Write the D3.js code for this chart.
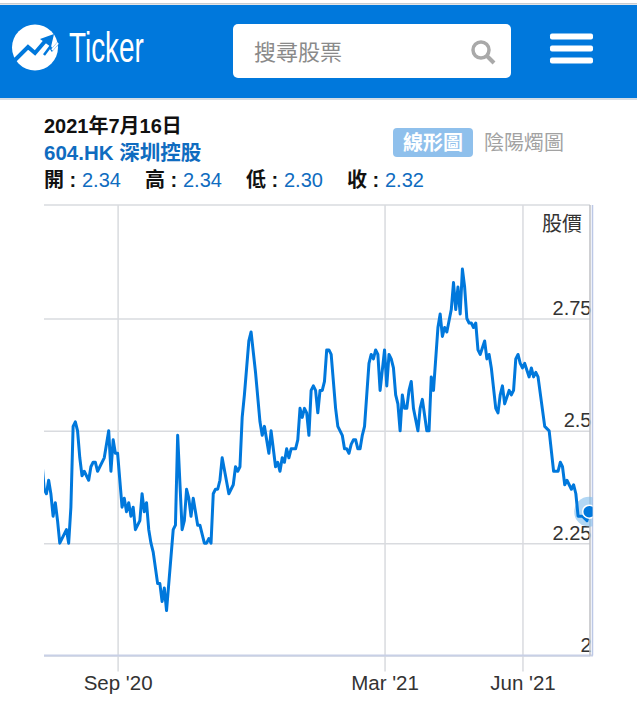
<!DOCTYPE html>
<html>

<head>
    <meta charset="utf-8">
    <title>604.HK</title>
    <script src="https://d3js.org/d3.v7.min.js"></script>
    <style>
        html, body { margin: 0; padding: 0; background: #fff; }
        svg { display: block; }
        text { font-family: "Liberation Sans", "Noto Sans CJK TC", sans-serif; }
    </style>
</head>

<body>
    <script>
        const msm = { width: 637, height: 704 }
        const plot = { left: 44, right: 590, top: 205, bottom: 655.5 }

        // trading day number and closing price of each turning point
        const tradingDays = [-1, 0, 1, 2, 3, 4, 5, 6, 7, 10, 11, 12, 13, 14, 15, 16, 17, 18, 20, 21, 22, 23, 24, 27, 29, 30, 31, 32, 33, 35,
            36, 37, 38, 39, 40, 41, 43, 44, 45, 46, 47, 48, 49, 51, 52, 53, 54, 55, 58, 59, 60, 62, 63, 64, 65, 66, 67, 69, 70, 72,
            73, 74, 75, 76, 77, 78, 79, 80, 83, 85, 86, 87, 88, 89, 90, 92, 93, 95, 97, 98, 99, 101, 102, 104, 105, 106, 107, 108, 109, 110,
            111, 113, 114, 115, 116, 117, 118, 119, 120, 121, 122, 123, 124, 125, 126, 127, 128, 129, 131, 132, 134, 135, 136, 137, 138, 139, 140, 141, 142, 143,
            144, 146, 147, 148, 149, 150, 151, 153, 154, 155, 156, 157, 158, 159, 160, 161, 162, 163, 164, 165, 166, 168, 169, 170, 172, 173, 174, 175, 177, 178,
            179, 180, 181, 183, 184, 185, 186, 187, 188, 189, 190, 191, 192, 193, 194, 195, 196, 198, 199, 200, 201, 203, 204, 205, 206, 207, 209, 210, 211, 212,
            213, 214, 215, 216, 218, 219, 220, 221, 222, 225, 227, 229, 231, 232, 233, 234, 235, 237, 238, 239, 240, 242, 244, 245]
        const closes = [2.43, 2.37, 2.36, 2.39, 2.36, 2.31, 2.34, 2.30, 2.25, 2.28, 2.25, 2.33, 2.51, 2.52, 2.50, 2.44, 2.40, 2.41, 2.39, 2.42, 2.43, 2.43, 2.41, 2.44, 2.50, 2.41, 2.48, 2.45, 2.45, 2.33,
            2.35, 2.32, 2.34, 2.31, 2.33, 2.28, 2.30, 2.36, 2.32, 2.34, 2.28, 2.25, 2.23, 2.16, 2.16, 2.12, 2.15, 2.10, 2.28, 2.29, 2.49, 2.28, 2.30, 2.37, 2.35, 2.31, 2.35, 2.29, 2.29, 2.25,
            2.25, 2.26, 2.25, 2.36, 2.37, 2.37, 2.39, 2.44, 2.36, 2.38, 2.42, 2.41, 2.42, 2.53, 2.58, 2.70, 2.72, 2.63, 2.52, 2.49, 2.51, 2.45, 2.50, 2.42, 2.43, 2.41, 2.44, 2.43, 2.46, 2.44,
            2.46, 2.46, 2.48, 2.55, 2.53, 2.55, 2.54, 2.49, 2.59, 2.60, 2.59, 2.54, 2.59, 2.59, 2.61, 2.68, 2.68, 2.67, 2.55, 2.51, 2.49, 2.46, 2.46, 2.45, 2.47, 2.48, 2.48, 2.46, 2.46, 2.49,
            2.51, 2.65, 2.67, 2.66, 2.68, 2.67, 2.59, 2.68, 2.60, 2.67, 2.66, 2.64, 2.58, 2.56, 2.50, 2.58, 2.55, 2.55, 2.59, 2.61, 2.55, 2.50, 2.55, 2.57, 2.50, 2.50, 2.62, 2.59, 2.73, 2.76,
            2.71, 2.73, 2.72, 2.77, 2.83, 2.77, 2.82, 2.76, 2.86, 2.82, 2.75, 2.74, 2.74, 2.73, 2.74, 2.68, 2.67, 2.70, 2.66, 2.67, 2.64, 2.55, 2.54, 2.58, 2.60, 2.56, 2.59, 2.58, 2.59, 2.66,
            2.67, 2.65, 2.64, 2.65, 2.62, 2.64, 2.62, 2.63, 2.62, 2.51, 2.50, 2.41, 2.41, 2.43, 2.42, 2.38, 2.39, 2.37, 2.38, 2.36, 2.31, 2.31, 2.30, 2.32]

        const priceTicks = [2, 2.25, 2.5, 2.75]
        const monthDays = [33, 153, 215]
        const monthLabels = ["Sep '20", "Mar '21", "Jun '21"]

        const quoteLabels = ["開 :", "高 :", "低 :", "收 :"]
        const quoteValues = ["2.34", "2.34", "2.30", "2.32"]

        const blue = '#0078dc'
        const gridColor = '#d9dbdf'

        let svg = d3.select('body')
            .append('svg')
            .attr('width', msm.width)
            .attr('height', msm.height)

        let x = d3.scaleLinear().domain([0, 245]).range([44.2, 589.2])
        let y = d3.scaleLinear().domain([2, 2.75]).range([655.5, 318.5])

        // header bar
        svg.append('rect').attr('x', 0).attr('y', 3).attr('width', msm.width).attr('height', 1.5).attr('fill', '#c9ccd0')
        svg.append('rect').attr('x', 0).attr('y', 5).attr('width', msm.width).attr('height', 93).attr('fill', blue)
        svg.append('rect').attr('x', 0).attr('y', 98).attr('width', msm.width).attr('height', 2).attr('fill', '#d5dde5')

        // logo
        svg.append('circle').attr('cx', 35).attr('cy', 47.5).attr('r', 23).attr('fill', '#fff')
        svg.append('path')
            .attr('d', 'M15 60 L28 47 L35 53 L47 39')
            .attr('fill', 'none').attr('stroke', blue).attr('stroke-width', 4)
        svg.append('path').attr('d', 'M40 39 L54 34 L51 47 Z').attr('fill', blue)
        svg.append('path')
            .attr('d', 'M44 55 L50 47 L52 50 L58 43')
            .attr('fill', 'none').attr('stroke', blue).attr('stroke-width', 2.5)
        svg.append('path')
            .attr('d', 'M52 50 L58 43')
            .attr('fill', 'none').attr('stroke', '#fff').attr('stroke-width', 2)
        svg.append('text').attr('x', 0).attr('y', 0)
            .attr('transform', 'translate(69,62) scale(0.68,1.03)')
            .attr('font-size', 41).attr('fill', '#fff')
            .style('font-family', '"Liberation Sans Narrow", "Liberation Sans"')
            .text('Ticker')

        // search box
        svg.append('rect').attr('x', 233).attr('y', 24).attr('width', 278).attr('height', 54).attr('rx', 5).attr('fill', '#fff')
        svg.append('text').attr('x', 254).attr('y', 60).attr('font-size', 22).attr('fill', '#8a8a8a').text('搜尋股票')
        svg.append('circle').attr('cx', 481).attr('cy', 50).attr('r', 8).attr('fill', 'none').attr('stroke', '#a9a9a9').attr('stroke-width', 3.5)
        svg.append('line').attr('x1', 487).attr('y1', 56).attr('x2', 494).attr('y2', 63).attr('stroke', '#a9a9a9').attr('stroke-width', 4)

        // menu icon
        d3.range(3).forEach(function (i) {
            svg.append('rect').attr('x', 550).attr('y', 33.5 + i * 12).attr('width', 43).attr('height', 6).attr('rx', 2).attr('fill', '#fff')
        })

        // quote heading
        svg.append('text').attr('x', 44).attr('y', 133).attr('font-size', 20).attr('font-weight', 'bold').attr('fill', '#111').text('2021年7月16日')
        svg.append('text').attr('x', 44).attr('y', 160).attr('font-size', 20.5).attr('font-weight', 'bold').attr('fill', '#0f6cc0').text('604.HK 深圳控股')

        let quoteX = d3.scalePoint().domain(quoteLabels).range([44, 347])
        quoteLabels.forEach(function (d, i) {
            svg.append('text').attr('x', quoteX(d)).attr('y', 187).attr('font-size', 20).attr('fill', '#111').attr('font-weight', 'bold').text(d)
            svg.append('text').attr('x', quoteX(d) + 38).attr('y', 187).attr('font-size', 20).attr('fill', '#0f6cc0').text(quoteValues[i])
        })

        // chart type buttons
        svg.append('rect').attr('x', 393).attr('y', 128).attr('width', 80).attr('height', 29).attr('rx', 4).attr('fill', '#8fc0ec')
        svg.append('text').attr('x', 403).attr('y', 150).attr('font-size', 20).attr('fill', '#fff').attr('font-weight', 'bold').text('線形圖')
        svg.append('text').attr('x', 484).attr('y', 150).attr('font-size', 20).attr('fill', '#a2a2a2').text('陰陽燭圖')

        // plot frame
        svg.append('line').attr('x1', plot.left).attr('x2', plot.right).attr('y1', plot.top).attr('y2', plot.top).attr('stroke', gridColor).attr('stroke-width', 1.5)

        // grid and labels
        let yAxis = d3.axisLeft(y)
            .tickValues(priceTicks)
            .tickSize(plot.left - plot.right)
            .tickFormat(d => d3.format('~g')(d))
        let yG = svg.append('g').attr('transform', `translate(${plot.left},0)`).call(yAxis)
        yG.select('.domain').remove()
        yG.selectAll('line').attr('stroke', gridColor).attr('stroke-width', 1.5)
        yG.selectAll('text')
            .attr('x', plot.right + 1.5 - plot.left)
            .attr('dy', -4)
            .attr('text-anchor', 'end')
            .attr('font-size', 20)
            .attr('fill', '#333')

        let xAxis = d3.axisBottom(x)
            .tickValues(monthDays)
            .tickSize(plot.top - plot.bottom)
            .tickFormat((d, i) => monthLabels[i])
        let xG = svg.append('g').attr('transform', `translate(0,${plot.bottom})`).call(xAxis)
        xG.select('.domain').remove()
        xG.selectAll('line').attr('stroke', gridColor).attr('stroke-width', 1.5)
        xG.selectAll('text')
            .attr('y', 34)
            .attr('dy', 0)
            .attr('font-size', 20.5)
            .attr('fill', '#333')

        // tick stubs under the axis
        xG.selectAll('.tick').append('line')
            .attr('y1', 0).attr('y2', 16)
            .attr('stroke', gridColor).attr('stroke-width', 1.5)

        svg.append('line').attr('x1', plot.left).attr('x2', plot.right + 3).attr('y1', plot.bottom).attr('y2', plot.bottom).attr('stroke', '#c8d0e6').attr('stroke-width', 2)
        svg.append('line').attr('x1', plot.right).attr('x2', plot.right).attr('y1', plot.top).attr('y2', plot.bottom).attr('stroke', '#bfc1c4').attr('stroke-width', 1.5)
        svg.append('line').attr('x1', plot.right + 2.5).attr('x2', plot.right + 2.5).attr('y1', plot.top).attr('y2', plot.bottom).attr('stroke', '#bcc8e6').attr('stroke-width', 1.5)

        svg.append('text').attr('x', 582).attr('y', 231).attr('font-size', 20).attr('text-anchor', 'end').attr('fill', '#333').text('股價')

        // price line and last point are cut off at the right edge of the plot
        svg.append('clipPath').attr('id', 'plot-clip')
            .append('rect').attr('x', plot.left).attr('y', plot.top).attr('width', plot.right + 2.5 - plot.left).attr('height', plot.bottom - plot.top)

        let line = d3.line()
            .x(d => x(d))
            .y((d, i) => y(closes[i]))

        let marks = svg.append('g').attr('clip-path', 'url(#plot-clip)')

        let lastDay = tradingDays[tradingDays.length - 1]
        let lastClose = closes[closes.length - 1]
        marks.append('circle').attr('cx', x(lastDay)).attr('cy', y(lastClose)).attr('r', 15).attr('fill', '#7fbcec').attr('opacity', 0.6)

        marks.append('path')
            .attr('d', line(tradingDays))
            .attr('fill', 'none')
            .attr('stroke', blue)
            .attr('stroke-width', 3)
            .attr('stroke-linejoin', 'round')

        marks.append('circle').attr('cx', x(lastDay)).attr('cy', y(lastClose)).attr('r', 6.5).attr('fill', blue).attr('stroke', '#fff').attr('stroke-width', 1.5)
    </script>
</body>
</html>
